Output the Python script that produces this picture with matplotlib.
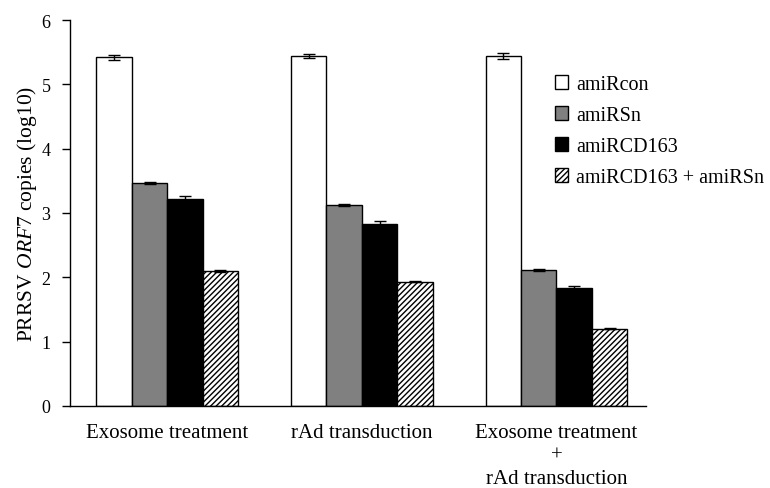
import matplotlib
matplotlib.use("Agg")
import matplotlib.pyplot as plt
import numpy as np

groups = ["Exosome treatment", "rAd transduction", "Exosome treatment\n+\nrAd transduction"]
series = ["amiRcon", "amiRSn", "amiRCD163", "amiRCD163 + amiRSn"]
values = {
    "amiRcon": [5.42, 5.44, 5.44],
    "amiRSn": [3.47, 3.12, 2.12],
    "amiRCD163": [3.22, 2.83, 1.83],
    "amiRCD163 + amiRSn": [2.10, 1.93, 1.20],
}
errors = {
    "amiRcon": [0.04, 0.03, 0.04],
    "amiRSn": [0.015, 0.015, 0.015],
    "amiRCD163": [0.04, 0.05, 0.04],
    "amiRCD163 + amiRSn": [0.01, 0.01, 0.01],
}
yticks = [0, 1, 2, 3, 4, 5, 6]

plt.rcParams['font.family'] = ['Liberation Serif', 'DejaVu Serif']
plt.rcParams['mathtext.fontset'] = 'custom'
plt.rcParams['mathtext.it'] = 'Liberation Serif:italic'
plt.rcParams['mathtext.rm'] = 'Liberation Serif'
plt.rcParams['hatch.linewidth'] = 1.0

fig = plt.figure(figsize=(7.7, 4.89), dpi=100)
ax = fig.add_axes([70/770, (489-407)/489, 576/770, 386/489])

styles = [
    dict(color="white", hatch=None),
    dict(color="#808080", hatch=None),
    dict(color="black", hatch=None),
    dict(color="white", hatch="//////"),
]
x = np.arange(len(groups))
w = 0.182
for i, s in enumerate(series):
    pos = x + (i - 1.5) * w
    st = styles[i]
    ax.bar(pos, values[s], width=w, color=st["color"], edgecolor="black",
           linewidth=1.0, hatch=st["hatch"], label=s, zorder=2)
    ax.errorbar(pos, values[s], yerr=errors[s], fmt="none", ecolor="black",
                elinewidth=1.0, capsize=4, capthick=1.0, zorder=3)

ax.set_xlim(-0.5, 2.46)
ax.set_ylim(0, 6)
ax.set_yticks(yticks)
ax.set_xticks(x)
ax.set_xticklabels(groups, fontsize=15, linespacing=1.3)
ax.tick_params(axis="x", length=0, pad=12)
ax.tick_params(axis="y", length=6, width=1, direction="out", labelsize=13, pad=8)
for sp in ["top", "right"]:
    ax.spines[sp].set_visible(False)
for sp in ["left", "bottom"]:
    ax.spines[sp].set_linewidth(1.0)
ax.set_ylabel(r"PRRSV $\mathit{ORF7}$ copies (log10)", fontsize=15.5, labelpad=2)

leg = ax.legend(loc="upper left", bbox_to_anchor=(555/770, 1 - 76/489),
                bbox_transform=fig.transFigure, frameon=False, fontsize=14.5,
                handlelength=0.65, handleheight=0.65, handletextpad=0.4,
                labelspacing=0.6, borderaxespad=0, borderpad=0)

fig.savefig("out.png", dpi=100)
